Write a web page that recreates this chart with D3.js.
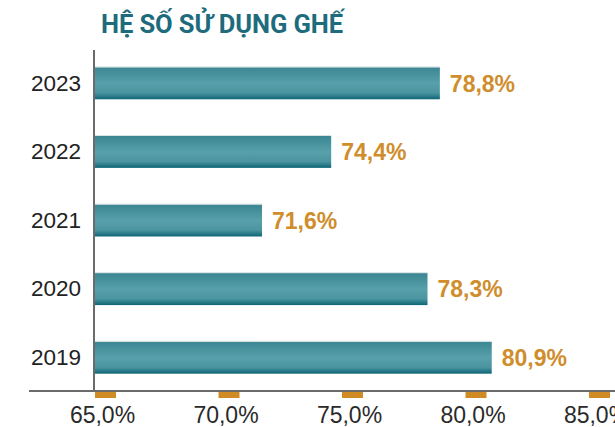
<!DOCTYPE html>
<html>
<head>
<meta charset="utf-8">
<script src="https://cdn.jsdelivr.net/npm/d3@7"></script>
<style>
  html, body { margin: 0; padding: 0; background: #fff; }
  #chart { width: 615px; height: 427px; }
</style>
</head>
<body>
<div id="chart"></div>
<script>
"use strict";

const title = "HỆ SỐ SỬ DỤNG GHẾ";
const years = ["2023", "2022", "2021", "2020", "2019"];
const loadFactor = [78.8, 74.4, 71.6, 78.3, 80.9];
const tickValues = [65, 70, 75, 80, 85];

const fmt = v => v.toFixed(1).replace(".", ",") + "%";

function draw() {
  const w = 615, h = 427;
  const axisX = 94;
  const axisY = 391;

  const data = years.map((y, i) => ({ year: y, value: loadFactor[i] }));

  const xScale = d3.scaleLinear()
    .domain([65, 85])
    .range([99, 593]);

  const yScale = d3.scaleBand()
    .domain(years)
    .range([49, axisY + 1])
    .paddingInner(0.534)
    .paddingOuter(0.267);

  const svg = d3.select("#chart")
    .append("svg")
    .attr("width", w)
    .attr("height", h);

  const grad = svg.append("defs")
    .append("linearGradient")
    .attr("id", "barGrad")
    .attr("x1", 0).attr("y1", 0)
    .attr("x2", 0).attr("y2", 1);
  [["0%", "#3a8692"], ["50%", "#58a0aa"], ["80%", "#4b95a0"], ["100%", "#0d6576"]]
    .forEach(s => grad.append("stop").attr("offset", s[0]).attr("stop-color", s[1]));

  svg.append("text")
    .attr("x", 101)
    .attr("y", 33)
    .attr("font-family", "Roboto, 'Liberation Sans', sans-serif")
    .attr("font-weight", 700)
    .attr("font-size", 25.5)
    .attr("textLength", 242)
    .attr("fill", "#1d6b7d")
    .text(title);

  // bars
  svg.selectAll("rect.bar")
    .data(data)
    .enter()
    .append("rect")
    .attr("class", "bar")
    .attr("x", axisX + 1)
    .attr("y", d => yScale(d.year))
    .attr("width", d => xScale(d.value) - axisX - 1)
    .attr("height", yScale.bandwidth())
    .attr("fill", "url(#barGrad)");

  svg.selectAll("line.edge")
    .data(data)
    .enter()
    .append("line")
    .attr("class", "edge")
    .attr("x1", axisX + 1)
    .attr("x2", d => xScale(d.value))
    .attr("y1", d => yScale(d.year) - 0.5)
    .attr("y2", d => yScale(d.year) - 0.5)
    .attr("stroke", "#d8e3e5")
    .attr("stroke-width", 1);

  // value labels
  svg.selectAll("text.val")
    .data(data)
    .enter()
    .append("text")
    .attr("class", "val")
    .attr("x", d => xScale(d.value) + 10)
    .attr("y", d => yScale(d.year) + yScale.bandwidth() / 2)
    .attr("dy", "0.36em")
    .attr("font-family", "'Liberation Sans', Arial, sans-serif")
    .attr("font-weight", 700)
    .attr("font-size", 23)
    .attr("fill", "#cf8d2c")
    .text(d => fmt(d.value));

  // y axis
  const yAxis = svg.append("g")
    .attr("transform", `translate(${axisX}, 0)`)
    .call(d3.axisLeft(yScale).tickSize(0).tickPadding(13));
  yAxis.select(".domain").remove();
  yAxis.append("line")
    .attr("x1", 0).attr("x2", 0)
    .attr("y1", 50).attr("y2", axisY + 1)
    .attr("stroke", "#6b6b6b")
    .attr("stroke-width", 2);
  yAxis.selectAll(".tick text")
    .attr("font-family", "'Liberation Sans', Arial, sans-serif")
    .attr("font-size", 22.5)
    .attr("fill", "#222");

  // x axis
  svg.append("line")
    .attr("x1", 29).attr("x2", w)
    .attr("y1", axisY).attr("y2", axisY)
    .attr("stroke", "#6b6b6b")
    .attr("stroke-width", 2);

  const xAxis = svg.append("g")
    .attr("transform", `translate(6, ${axisY + 1})`)
    .call(d3.axisBottom(xScale).tickValues(tickValues).tickSize(0).tickPadding(15).tickFormat(fmt));
  xAxis.select(".domain").remove();
  xAxis.selectAll(".tick")
    .append("rect")
    .attr("x", -10.5)
    .attr("y", 0)
    .attr("width", 21)
    .attr("height", 6)
    .attr("fill", "#d08b24");
  xAxis.selectAll(".tick text")
    .attr("font-family", "'Liberation Sans', Arial, sans-serif")
    .attr("font-size", 23)
    .attr("fill", "#2a2a2a")
    .attr("dx", -3);
}

draw();
</script>
</body>
</html>
